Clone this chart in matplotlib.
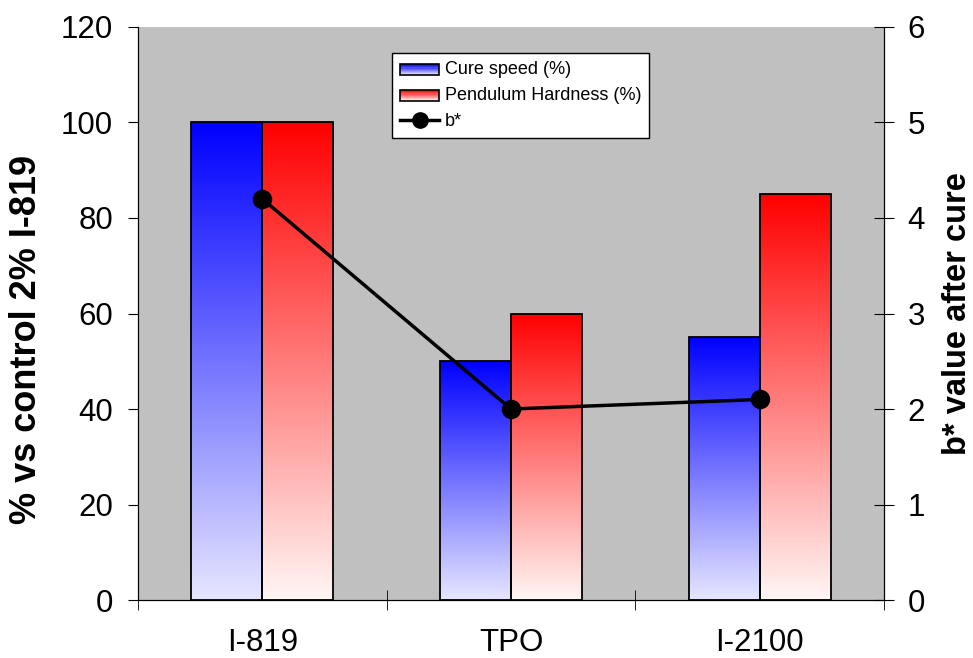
import numpy as np
import matplotlib.pyplot as plt
from matplotlib.patches import Rectangle
from matplotlib.lines import Line2D
from matplotlib.legend_handler import HandlerBase
from matplotlib.colors import LinearSegmentedColormap

plt.rcParams['font.family'] = ['Liberation Sans', 'DejaVu Sans']

categories = ["I-819", "TPO", "I-2100"]
cure_speed = [100, 50, 55]
pendulum = [100, 60, 85]
b_star = [4.2, 2.0, 2.1]

fig = plt.figure(figsize=(9.73, 6.58), dpi=100)
ax = fig.add_axes([0.1418, 0.0881, 0.7667, 0.8709])
ax.set_facecolor("#c0c0c0")

blue_cm = LinearSegmentedColormap.from_list("b", ["#e6e6ff", "#0000ff"])
red_cm = LinearSegmentedColormap.from_list("r", ["#fff6f4", "#ff0000"])

w = 0.285
x = np.arange(len(categories))
grad = np.linspace(0, 1, 256).reshape(-1, 1)


def grad_bar(xl, h, cmap):
    im = ax.imshow(grad, cmap=cmap, aspect="auto", origin="lower",
                   extent=[xl, xl + w, 0, h], zorder=2)
    r = Rectangle((xl, 0), w, h, facecolor="none", edgecolor="black", lw=1.3, zorder=3)
    ax.add_patch(r)
    im.set_clip_path(r)


for i in range(len(categories)):
    grad_bar(x[i] - w, cure_speed[i], blue_cm)
    grad_bar(x[i], pendulum[i], red_cm)

ax.set_xlim(-0.5, 2.5)
ax.set_ylim(0, 120)
ax.set_yticks(np.arange(0, 121, 20))
ax.set_xticks(x)
ax.set_xticklabels(categories)
ax.set_xticks([-0.5, 0.5, 1.5, 2.5], minor=True)
ax.tick_params(axis="x", which="major", length=0, pad=20, labelsize=22.5)
ax.tick_params(axis="x", which="minor", length=14, direction="inout")
ax.tick_params(axis="y", labelsize=22.5, direction="out", length=7, pad=11)
ax.spines["top"].set_visible(False)
ax.set_ylabel("% vs control 2% I-819", fontsize=26, fontweight="bold", labelpad=12)
ax.yaxis.label.set_y(0.455)


class GradHandler(HandlerBase):
    def __init__(self, cmap):
        super().__init__()
        self.cmap = cmap

    def create_artists(self, legend, orig_handle, xd, yd, width, height, fontsize, trans):
        arts = []
        n = 10
        for k in range(n):
            c = self.cmap(1 - k / (n - 1))
            arts.append(Rectangle((xd, yd + height * (n - 1 - k) / n), width, height / n,
                                  facecolor=c, edgecolor="none", transform=trans))
        arts.append(Rectangle((xd, yd), width, height, facecolor="none",
                              edgecolor="black", lw=1.2, transform=trans))
        return arts


ax2 = ax.twinx()
ax2.plot(x, b_star, color="black", lw=2.5, marker="o", markersize=13, zorder=5)
ax2.set_ylim(0, 6)
ax2.set_yticks(np.arange(0, 7, 1))
ax2.tick_params(axis="y", labelsize=22.5, direction="inout", length=14, pad=10)
ax2.spines["top"].set_visible(False)
ax2.set_ylabel("b* value after cure", fontsize=23.5, fontweight="bold", labelpad=12)

h_cure = Rectangle((0, 0), 1, 1)
h_pend = Rectangle((0, 0), 1, 1)
h_b = Line2D([], [], color="black", lw=2.5, marker="o", markersize=11)
leg = ax2.legend([h_cure, h_pend, h_b],
                 ["Cure speed (%)", "Pendulum Hardness (%)", "b*"],
                 handler_map={h_cure: GradHandler(blue_cm), h_pend: GradHandler(red_cm)},
                 loc="upper left", bbox_to_anchor=(0.340, 0.9546), borderaxespad=0,
                 fontsize=13, frameon=True, fancybox=False, edgecolor="black",
                 framealpha=1, borderpad=0.45, labelspacing=0.5, handlelength=2.2,
                 handleheight=0.55, handletextpad=0.3)
leg.get_frame().set_linewidth(1)

fig.savefig("out.png", dpi=100)
